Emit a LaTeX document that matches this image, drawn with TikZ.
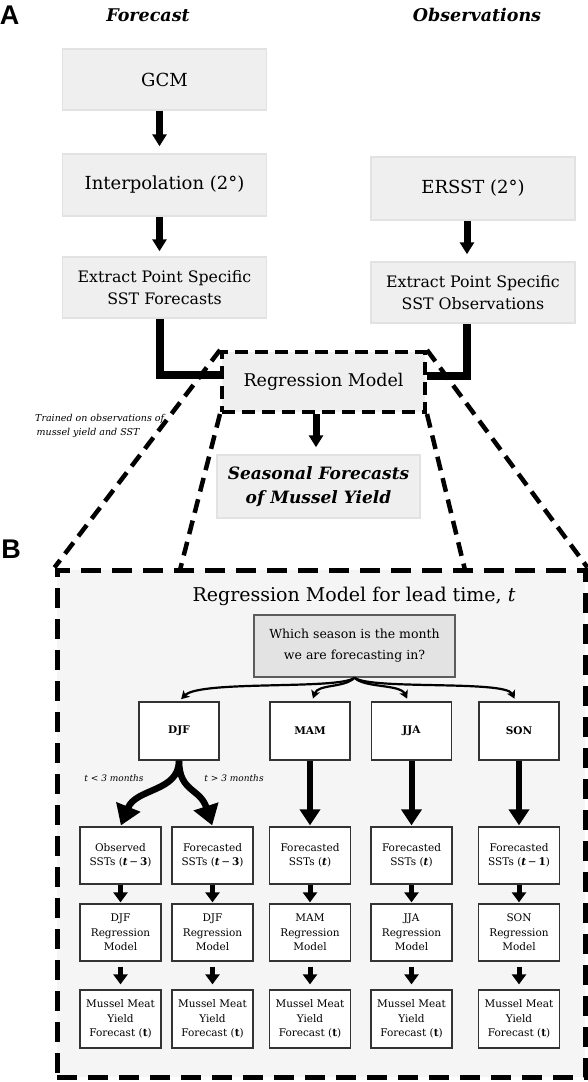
\documentclass[tikz,border=0pt]{standalone}
\usepackage{fontspec}
\setmainfont{DejaVu Serif}
\newfontfamily\panelfont{Liberation Sans}
\usetikzlibrary{arrows.meta}
\definecolor{boxgray}{HTML}{EFEFEF}
\definecolor{boxedge}{HTML}{E2E2E2}
\definecolor{panelbg}{HTML}{F4F5F4}
\definecolor{qgray}{HTML}{E3E3E3}
\definecolor{edgedark}{HTML}{333333}
\newcommand\myfs[2]{\fontsize{#1}{#2}\selectfont}
\begin{document}
\begin{tikzpicture}[x=1pt,y=-1pt,
  topbox/.style={fill=boxgray,draw=boxedge,line width=1.5pt,minimum width=204pt,inner sep=0pt,align=center},
  flowarrow/.style={line width=7pt,-{Triangle[width=14pt,length=12pt]}},
  thickline/.style={line width=8pt},
  dashA/.style={line width=4.5pt,dash pattern=on 14pt off 8pt},
  bigdash/.style={line width=5pt,dash pattern=on 20pt off 11pt},
  lowbox/.style={fill=white,draw=edgedark,line width=1.3pt,minimum width=81pt,inner sep=0pt,align=center,font=\myfs{10.5}{14.5}},
  seasbox/.style={lowbox,minimum width=80pt,minimum height=58pt,font=\myfs{10.5}{12}\bfseries},
  thinarrow/.style={line width=2.2pt,-{Stealth[width=9pt,length=8pt,inset=2pt]}},
  bigarrow/.style={line width=6pt,-{Triangle[width=20pt,length=16pt]}},
  smallarrow/.style={line width=5pt,-{Triangle[width=14pt,length=10pt]}},
  curvearrow/.style={line width=6.5pt,-{Triangle[width=25pt,length=20pt]}},
  panel/.style={font=\panelfont\myfs{27}{30}\bfseries,inner sep=0pt},
  head/.style={font=\myfs{17.5}{20}\bfseries\itshape,inner sep=0pt},
  caption/.style={font=\myfs{9}{11}\itshape,inner sep=0pt},
]
\useasboundingbox (0,0) rectangle (588,1082);
\fill[white] (0,0) rectangle (588,1082);

% ---------- Panel A ----------
\node[panel] (pa) at (9.5,15) {A};
\node[head] (fc) at (148,15) {Forecast};
\node[head] (ob) at (477,15) {Observations};

\node[topbox,minimum height=61pt,font=\myfs{18}{22}] (gcm) at (164.5,79.5) {GCM};
\node[topbox,minimum height=62pt,font=\myfs{18}{22}] (interp) at (164.5,185) {Interpolation (2°)};
\node[topbox,minimum height=61pt,font=\myfs{15.8}{21.5}] (extL) at (164.5,287.5) {Extract Point Specific\\SST Forecasts};
\node[topbox,minimum height=63pt,font=\myfs{18}{22}] (ersst) at (473,188.5) {ERSST (2°)};
\node[topbox,minimum height=61pt,font=\myfs{15.8}{21.5}] (extR) at (473,292.5) {Extract Point Specific\\SST Observations};

\draw[flowarrow,shorten >=7pt] ([xshift=-5pt]gcm.south) -- ([xshift=-5pt]interp.north);
\draw[flowarrow,shorten >=5pt] ([xshift=-5pt]interp.south) -- ([xshift=-5pt]extL.north);
\draw[flowarrow,shorten >=7pt] ([xshift=-6pt]ersst.south) -- ([xshift=-6pt]extR.north);

% big panel B frame
\node[draw=black,fill=panelbg,bigdash,minimum width=528pt,minimum height=507pt,inner sep=0pt] (big) at (321,823.5) {};

\node[fill=boxgray,draw=black,dashA,line width=4pt,dash pattern=on 13pt off 7pt,minimum width=203pt,minimum height=60pt,inner sep=0pt,font=\myfs{17.5}{22}] (reg) at (323.5,382) {Regression Model};

\coordinate (innerL) at (180,570);
\coordinate (innerR) at (465,570);
\draw[dashA] (reg.north west) -- (big.north west);
\draw[dashA] (reg.north east) -- (big.north east);
\draw[dashA] (reg.south west) -- (innerL);
\draw[dashA] (reg.south east) -- (innerR);

\draw[thickline] ([xshift=-5pt]extL.south) |- ([yshift=7pt]reg.west);
\draw[thickline] ([xshift=-6pt]extR.south) |- ([yshift=6pt]reg.east);

\node[topbox,minimum width=203pt,minimum height=63pt,font=\myfs{17}{24}\bfseries\itshape] (seas) at (318.5,486.5) {Seasonal Forecasts\\of Mussel Yield};
\draw[flowarrow,shorten >=7pt] ([xshift=-7.5pt]reg.south) -- ([xshift=-2.5pt]seas.north);

\node[font=\myfs{9.5}{14}\itshape,align=left,anchor=west,inner sep=0pt] (trained) at (35,426) {Trained on observations of\\\hspace{1.5pt}mussel yield and SST};

% ---------- Panel B ----------
\node[panel] (pb) at (11,549) {B};
\node[font=\myfs{19}{22},inner sep=0pt] (title) at (354,596) {Regression Model for lead time, \textit{t}};
\node[fill=qgray,draw=edgedark!80,line width=1.3pt,minimum width=201pt,minimum height=62pt,inner sep=0pt,align=center,font=\myfs{12.5}{21}] (q) at (354.5,646) {Which season is the month\\we are forecasting in?};

\node[seasbox] (djf) at (179,731) {DJF};
\node[seasbox] (mam) at (310,731) {MAM};
\node[seasbox] (jja) at (411.5,731) {JJA};
\node[seasbox] (son) at (519,731) {SON};

\draw[thinarrow,shorten >=3pt] (q.south) .. controls (340,690) and (200,680) .. (djf.north);
\draw[thinarrow,shorten >=3pt] (q.south) .. controls (345,688) and (318,684) .. ([xshift=2pt]mam.north);
\draw[thinarrow,shorten >=3pt] (q.south) .. controls (364,688) and (400,684) .. ([xshift=-3pt]jja.north);
\draw[thinarrow,shorten >=3pt] (q.south) .. controls (370,690) and (505,680) .. ([xshift=-3pt]son.north);

% row 1
\node[lowbox,minimum height=57pt] (obs) at (120.5,855.5) {Observed\\SSTs (\textbf{\textit{t}}\,−\,\textbf{3})};
\node[lowbox,minimum height=57pt] (fdjf) at (212.5,855.5) {Forecasted\\SSTs (\textbf{\textit{t}}\,−\,\textbf{3})};
\node[lowbox,minimum height=57pt] (fmam) at (310,855.5) {Forecasted\\SSTs (\textbf{\textit{t}})};
\node[lowbox,minimum height=57pt] (fjja) at (411.5,855.5) {Forecasted\\SSTs (\textbf{\textit{t}})};
\node[lowbox,minimum height=57pt] (fson) at (519,855.5) {Forecasted\\SSTs (\textbf{\textit{t}}\,−\,\textbf{1})};

% row 2
\node[lowbox,minimum height=57pt] (rdjfa) at (120.5,932.5) {DJF\\Regression\\Model};
\node[lowbox,minimum height=57pt] (rdjfb) at (212.5,932.5) {DJF\\Regression\\Model};
\node[lowbox,minimum height=57pt] (rmam) at (310,932.5) {MAM\\Regression\\Model};
\node[lowbox,minimum height=57pt] (rjja) at (411.5,932.5) {JJA\\Regression\\Model};
\node[lowbox,minimum height=57pt] (rson) at (519,932.5) {SON\\Regression\\Model};

% row 3
\node[lowbox,minimum height=58pt] (ma) at (120.5,1019) {Mussel Meat\\Yield\\Forecast (\textbf{t})};
\node[lowbox,minimum height=58pt] (mb) at (212.5,1019) {Mussel Meat\\Yield\\Forecast (\textbf{t})};
\node[lowbox,minimum height=58pt] (mc) at (310,1019) {Mussel Meat\\Yield\\Forecast (\textbf{t})};
\node[lowbox,minimum height=58pt] (md) at (411.5,1019) {Mussel Meat\\Yield\\Forecast (\textbf{t})};
\node[lowbox,minimum height=58pt] (me) at (519,1019) {Mussel Meat\\Yield\\Forecast (\textbf{t})};

% DJF split
\draw[curvearrow,shorten >=1pt] (djf.south) .. controls (179,792) and (136,788) .. (obs.north);
\draw[curvearrow,shorten >=1pt] (djf.south) .. controls (179,792) and (200,788) .. (fdjf.north);
\node[caption] (lt1) at (114,778) {t < 3 months};
\node[caption] (lt2) at (234,778) {t > 3 months};

\draw[bigarrow,shorten >=1pt] (mam.south) -- (fmam.north);
\draw[bigarrow,shorten >=1pt] (jja.south) -- (fjja.north);
\draw[bigarrow,shorten >=1pt] (son.south) -- (fson.north);

\foreach \a/\b in {obs/rdjfa,fdjf/rdjfb,fmam/rmam,fjja/rjja,fson/rson}
  \draw[smallarrow,shorten >=1pt] (\a.south) -- (\b.north);
\foreach \a/\b in {rdjfa/ma,rdjfb/mb,rmam/mc,rjja/md,rson/me}
  \draw[smallarrow,shorten <=5pt,shorten >=5pt] (\a.south) -- (\b.north);
\end{tikzpicture}
\end{document}
